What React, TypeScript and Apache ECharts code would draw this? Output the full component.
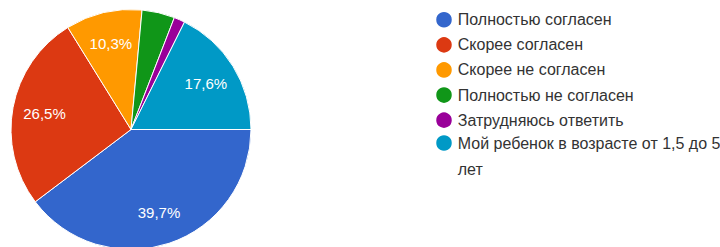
import React, { useEffect, useRef } from "react";
import * as echarts from "echarts";

const categories = [
  "Полностью согласен",
  "Скорее согласен",
  "Скорее не согласен",
  "Полностью не согласен",
  "Затрудняюсь ответить",
  "Мой ребенок в возрасте от 1,5 до 5 лет",
];
const counts = [27, 18, 7, 3, 1, 12];
const colors = ["#3366CC", "#DC3912", "#FF9900", "#109618", "#990099", "#0099C6"];

const FONT = "'Liberation Sans', Arial, sans-serif";

export default function App() {
  const ref = useRef<HTMLDivElement>(null);
  useEffect(() => {
    if (!ref.current) return;
    const chart = echarts.init(ref.current, null, { renderer: "svg" });
    const data = categories.map((name, i) => ({
      name,
      value: counts[i],
      itemStyle: { color: colors[i] },
    }));
    chart.setOption({
      animation: false,
      textStyle: { fontFamily: FONT },
      legend: [
        {
          orient: "vertical",
          left: 429.25,
          top: 5,
          itemWidth: 17.5,
          itemHeight: 17.5,
          itemGap: 5.6,
          icon: "circle",
          data: categories.slice(0, 5),
          textStyle: {
            fontFamily: FONT,
            fontSize: 16,
            lineHeight: 18,
            color: "#333",
          },
        },
        {
          orient: "vertical",
          left: 429.25,
          top: 99,
          itemWidth: 17.5,
          itemHeight: 17.5,
          icon: "circle",
          data: categories.slice(5),
          formatter: () => "\nМой ребенок в возрасте от 1,5 до 5\nлет",
          textStyle: {
            fontFamily: FONT,
            fontSize: 16,
            lineHeight: 26,
            color: "#333",
          },
        },
      ],
      series: [
        {
          type: "pie",
          center: [131, 129.5],
          radius: [0, 120],
          startAngle: 0,
          clockwise: true,
          label: { show: false },
          labelLine: { show: false },
          itemStyle: { borderColor: "#ffffff", borderWidth: 1 },
          emphasis: { disabled: true },
          data,
        },
        {
          type: "pie",
          center: [131, 129.5],
          radius: [50, 120],
          startAngle: 0,
          clockwise: true,
          silent: true,
          emphasis: { disabled: true },
          itemStyle: { color: "rgba(0,0,0,0)", borderWidth: 0 },
          labelLine: { show: false },
          label: {
            show: true,
            position: "inside",
            color: "#ffffff",
            fontSize: 15,
            fontFamily: FONT,
            formatter: (p: any) =>
              p.percent < 5 ? "" : p.percent.toFixed(1).replace(".", ",") + "%",
          },
          data: categories.map((name, i) => ({ name, value: counts[i] })),
        },
      ],
    });
    return () => chart.dispose();
  }, []);
  return (
    <div
      ref={ref}
      style={{ position: "fixed", left: 0, top: 0, width: 720, height: 247, background: "#fff" }}
    />
  );
}
